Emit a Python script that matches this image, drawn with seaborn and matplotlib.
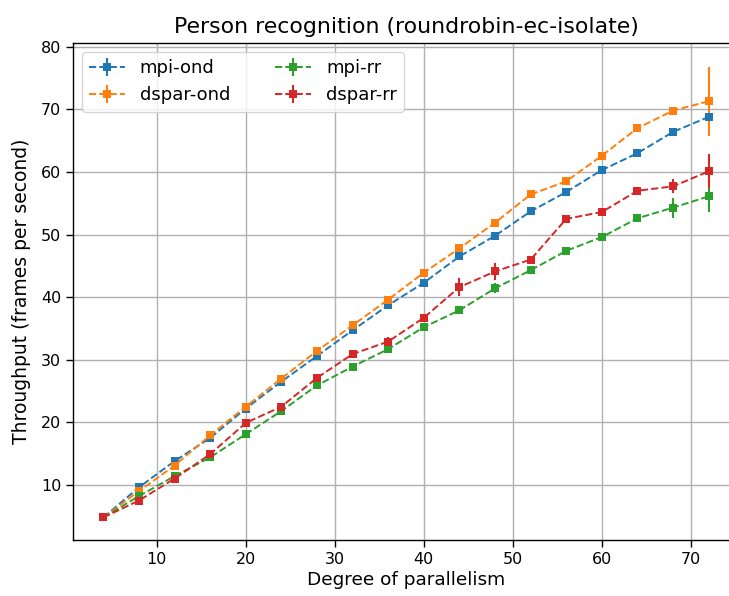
import numpy as np
import pandas as pd
import seaborn as sns
import matplotlib
matplotlib.use("Agg")
import matplotlib.pyplot as plt
from matplotlib.lines import Line2D
from matplotlib.legend_handler import HandlerTuple

degree = [4, 8, 12, 16, 20, 24, 28, 32, 36, 40, 44, 48, 52, 56, 60, 64, 68, 72]

mpi_ond = [4.8, 9.6, 13.8, 17.5, 22.2, 26.5, 30.6, 34.7, 38.7, 42.3, 46.5, 49.8,
           53.7, 56.8, 60.3, 63.0, 66.4, 68.8]
mpi_ond_err = [0.1, 0.2, 0.2, 0.2, 0.2, 0.2, 0.2, 0.2, 0.3, 0.2, 0.3, 0.2,
               0.2, 0.3, 0.3, 0.3, 0.3, 0.6]

dspar_ond = [4.8, 9.0, 13.1, 17.9, 22.5, 27.0, 31.4, 35.5, 39.6, 43.9, 47.8, 51.9,
             56.4, 58.5, 62.6, 67.0, 69.8, 71.3]
dspar_ond_err = [0.1, 0.2, 0.2, 0.2, 0.2, 0.2, 0.2, 0.2, 0.2, 0.2, 0.2, 0.2,
                 0.2, 0.2, 0.2, 0.2, 0.2, 5.5]

mpi_rr = [4.8, 8.2, 11.4, 14.4, 18.1, 21.8, 25.9, 28.9, 31.7, 35.2, 37.9, 41.4,
          44.3, 47.4, 49.6, 52.6, 54.3, 56.1]
mpi_rr_err = [0.1, 0.2, 0.2, 0.2, 0.2, 0.2, 0.2, 0.2, 0.6, 0.3, 0.3, 0.8,
              0.3, 0.4, 0.3, 0.5, 1.6, 2.5]

dspar_rr = [4.8, 7.5, 11.0, 14.9, 19.9, 22.5, 27.1, 30.9, 32.9, 36.7, 41.6, 44.1,
            46.0, 52.5, 53.6, 57.0, 57.7, 60.1]
dspar_rr_err = [0.1, 0.2, 0.2, 0.2, 0.2, 0.3, 0.5, 0.3, 0.8, 0.3, 1.4, 1.3,
                0.3, 0.3, 0.3, 0.3, 1.1, 2.7]

series = [
    ("mpi-ond", mpi_ond, mpi_ond_err),
    ("dspar-ond", dspar_ond, dspar_ond_err),
    ("mpi-rr", mpi_rr, mpi_rr_err),
    ("dspar-rr", dspar_rr, dspar_rr_err),
]


def main():
    sns.set_style("ticks", {"axes.grid": True, "grid.color": "#b0b0b0",
                            "axes.edgecolor": "black", "text.color": "black",
                            "axes.labelcolor": "black", "xtick.color": "black",
                            "ytick.color": "black"})
    plt.rcParams["font.family"] = ["DejaVu Sans"]
    colors = sns.color_palette("tab10", 4)

    fig = plt.figure(figsize=(7.29, 5.96), dpi=100)
    ax = fig.add_axes([73 / 729, 1 - 540 / 596, (739 - 73) / 729, (540 - 43) / 596])

    handles = []
    for (name, vals, err), c in zip(series, colors):
        df = pd.DataFrame({"x": degree, "y": vals})
        ax.errorbar(degree, vals, yerr=err, fmt="none", ecolor=c,
                    elinewidth=1.5, capsize=0, zorder=2)
        sns.lineplot(data=df, x="x", y="y", ax=ax, color=c, marker="s",
                     markersize=6, markeredgewidth=0, linestyle="--",
                     linewidth=1.4, legend=False, zorder=3)
        ln = Line2D([], [], color=c, linestyle="--", linewidth=1.4,
                    marker="s", markersize=6, markeredgewidth=0)
        bar = Line2D([], [], color=c, linestyle="none", marker="|",
                     markersize=13, markeredgewidth=1.5)
        handles.append((ln, bar))

    ax.grid(True, color="#b0b0b0", linewidth=1)
    ax.set_axisbelow(True)
    ax.set_xlim(0.6, 75.4)
    ax.set_ylim(1.2, 80.6)
    ax.set_xticks([10, 20, 30, 40, 50, 60, 70])
    ax.set_yticks([10, 20, 30, 40, 50, 60, 70, 80])
    ax.tick_params(labelsize=11.5, direction="out", length=5, width=1,
                   color="black", labelcolor="black", bottom=True, left=True)
    for s in ax.spines.values():
        s.set_color("black")
        s.set_linewidth(1)

    ax.set_xlabel("Degree of parallelism", fontsize=13.3, labelpad=3, color="black")
    ax.set_ylabel("Throughput (frames per second)", fontsize=13.5, labelpad=7,
                  color="black")
    ax.set_title("Person recognition (roundrobin-ec-isolate)", fontsize=15.8,
                 pad=7, color="black")

    leg = ax.legend(handles, [s[0] for s in series],
                    handler_map={tuple: HandlerTuple(ndivide=1)},
                    loc="upper left", ncol=2, fontsize=13, framealpha=0.8,
                    edgecolor="#cccccc", fancybox=True, columnspacing=2.5,
                    handlelength=2.0)
    for t in leg.get_texts():
        t.set_color("black")

    fig.savefig("out.png", dpi=100)


if __name__ == "__main__":
    main()
